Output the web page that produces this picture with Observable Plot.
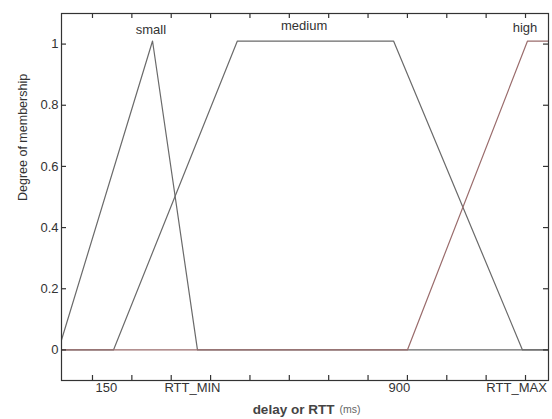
<!DOCTYPE html>
<html><head><meta charset="utf-8">
<script src="https://cdn.jsdelivr.net/npm/d3@7"></script>
<script src="https://cdn.jsdelivr.net/npm/@observablehq/plot@0.6"></script>
<style>body{margin:0;background:#fff}</style>
</head><body><div id="chart"></div>
<script>
// membership functions (delay in ms, degree)
const smallX = [69, 293, 400, 1236];
const smallY = [0, 1.01, 0, 0];
const mediumX = [76, 200, 495, 867, 1174, 1236];
const mediumY = [0, 0, 1.01, 1.01, 0, 0];
const highX = [76, 900, 1186, 1236];
const highY = [0, 0, 1.01, 1.01];
const mfNames = ["small", "medium", "high"];
const mfLabelX = [289, 654, 1180];
const mfLabelY = [1.046, 1.059, 1.052];
// axis ticks and labels
const xTicks = d3.range(12).map(k => 150 + 93.75 * k);
const xTickLabels = ["150", "RTT_MIN", "900", "RTT_MAX"];
const xTickLabelPos = [183, 388, 881, 1160];
const yTicks = [0, 0.2, 0.4, 0.6, 0.8, 1];

const toPts = (xs, ys) => xs.map((x, i) => ({x, y: ys[i]}));
const font = "Liberation Sans, Arial, sans-serif";
const lineGray = "#6a6a6a";
const W = 552, H = 419, mL = 61, mR = 4, mT = 13, mB = 39, tick = 5;
const fw = W - mL - mR, fh = H - mT - mB;

const chart = Plot.plot({
  width: W, height: H,
  marginLeft: mL, marginRight: mR, marginTop: mT, marginBottom: mB,
  style: {fontFamily: font, fontSize: "13px", color: "#333", background: "#fff"},
  x: {domain: [76.2, 1236], label: null, axis: null},
  y: {domain: [-0.1, 1.1], label: null},
  marks: [
    Plot.line(toPts(smallX, smallY), {x: "x", y: "y", stroke: lineGray, strokeWidth: 1.2, clip: true}),
    Plot.line(toPts(mediumX, mediumY), {x: "x", y: "y", stroke: lineGray, strokeWidth: 1.2, clip: true}),
    Plot.line(toPts(highX, highY), {x: "x", y: "y", stroke: "#9a6c6c", strokeWidth: 1.2, clip: true}),
    Plot.text(mfNames, {x: (d, i) => mfLabelX[i], y: (d, i) => mfLabelY[i], text: d => d, fill: "#333", fontSize: 13}),
    Plot.frame({stroke: "#333", strokeWidth: 1.2}),
    // inward ticks on all four sides
    Plot.ruleX(xTicks, {x: d => d, insetTop: fh - tick, stroke: "#333", strokeWidth: 1.2}),
    Plot.ruleX(xTicks, {x: d => d, insetBottom: fh - tick, stroke: "#333", strokeWidth: 1.2}),
    Plot.ruleY(yTicks, {y: d => d, insetRight: fw - tick, stroke: "#333", strokeWidth: 1.2}),
    Plot.ruleY(yTicks, {y: d => d, insetLeft: fw - tick, stroke: "#333", strokeWidth: 1.2}),
    Plot.text(xTickLabels, {x: (d, i) => xTickLabelPos[i], text: d => d, frameAnchor: "bottom", dy: 11, fill: "#333", fontSize: 13}),
    Plot.axisY(yTicks, {anchor: "left", tickSize: 0, tickPadding: 3, tickFormat: d => String(d), fill: "#333", fontSize: 13}),
    Plot.text(["Degree of membership"], {frameAnchor: "left", dx: -39, dy: 4, rotate: -90, fill: "#333", fontSize: 12.5}),
    Plot.text(["delay or RTT"], {frameAnchor: "bottom", dy: 33, dx: -11.5, fill: "#444", fontSize: 13.5, fontWeight: "bold"}),
    Plot.text(["(ms)"], {frameAnchor: "bottom", dy: 32, dx: 45, fill: "#666", fontSize: 10.5})
  ]
});
document.getElementById("chart").appendChild(chart);
</script>
</body></html>
